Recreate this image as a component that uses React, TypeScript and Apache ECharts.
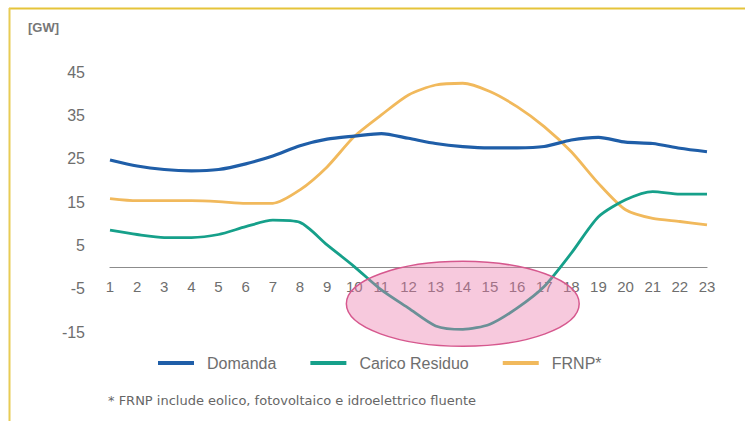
import React, { useEffect, useRef } from "react";
import * as echarts from "echarts";

const hours = ["1","2","3","4","5","6","7","8","9","10","11","12","13","14","15","16","17","18","19","20","21","22","23"];
const domanda = [24.7, 23.3, 22.5, 22.2, 22.5, 23.8, 25.6, 28.0, 29.5, 30.2, 30.8, 29.7, 28.5, 27.8, 27.5, 27.5, 27.8, 29.3, 29.9, 28.8, 28.5, 27.4, 26.6];
const caricoResiduo = [8.5, 7.5, 6.8, 6.8, 7.5, 9.3, 10.8, 10.3, 5.1, 0.1, -5.3, -9.5, -13.6, -14.4, -13.2, -9.5, -4.5, 3.2, 11.6, 15.5, 17.4, 16.8, 16.8];
const frnp = [15.8, 15.3, 15.3, 15.3, 15.1, 14.7, 14.7, 17.8, 23.1, 30.1, 35.1, 39.7, 42.0, 42.4, 40.5, 37.0, 32.4, 26.6, 19.3, 13.2, 11.2, 10.5, 9.7];
const yTicks = [-15, -5, 5, 15, 25, 35, 45];
const yMin = -15;
const yMax = 45;
// highlighted region (hour, GW) and its radii (hours, GW)
const highlight = { hour: 14, value: -8.5, rHours: 4.29, rValue: 9.8 };

const FONT = "'Liberation Sans', Arial, sans-serif";
const GRAY = "#6e6e6e";
const GRID = { left: 110, right: 38, top: 72, bottom: 89 };
const H = 421;

export default function App() {
  const ref = useRef<HTMLDivElement>(null);
  useEffect(() => {
    if (!ref.current) return;
    const chart = echarts.init(ref.current, undefined, { renderer: "svg" });
    const gridH = H - GRID.top - GRID.bottom;
    const zeroOffset = ((0 - yMin) / (yMax - yMin)) * gridH;
    chart.setOption({
      animation: false,
      backgroundColor: "#ffffff",
      grid: { ...GRID, containLabel: false },
      legend: {
        left: 153,
        top: 350,
        itemWidth: 36,
        itemHeight: 4,
        itemGap: 34,
        icon: "rect",
        textStyle: { fontFamily: FONT, fontSize: 16, color: GRAY, padding: [0, 0, 0, 8] },
        data: ["Domanda", "Carico Residuo", "FRNP*"],
      },
      xAxis: {
        type: "category",
        data: hours,
        boundaryGap: false,
        position: "bottom",
        offset: -zeroOffset,
        axisLine: { onZero: false, lineStyle: { color: "#8c8c8c", width: 1.2 } },
        axisTick: { show: false },
        axisLabel: { fontFamily: FONT, fontSize: 15, color: GRAY, margin: 12, interval: 0 },
        splitLine: { show: false },
      },
      yAxis: {
        type: "value",
        min: yMin,
        max: yMax,
        axisLine: { show: false },
        axisTick: { show: false },
        splitLine: { show: false },
        axisLabel: { fontFamily: FONT, fontSize: 16, color: GRAY, margin: 25, customValues: yTicks },
      },
      series: [
        {
          name: "Domanda", type: "line", data: domanda, smooth: 0.25, symbol: "none",
          lineStyle: { color: "#1f5ea8", width: 3.2 }, itemStyle: { color: "#1f5ea8" }, z: 3,
        },
        {
          name: "Carico Residuo", type: "line", data: caricoResiduo, smooth: 0.25, symbol: "none",
          lineStyle: { color: "#16a08a", width: 2.8 }, itemStyle: { color: "#16a08a" }, z: 3,
        },
        {
          name: "FRNP*", type: "line", data: frnp, smooth: 0.25, symbol: "none",
          lineStyle: { color: "#f1b95c", width: 2.8 }, itemStyle: { color: "#f1b95c" }, z: 2,
        },
      ],
    });
    const p0 = chart.convertToPixel({ gridIndex: 0 }, [highlight.hour - 1, highlight.value]) as number[];
    const p1 = chart.convertToPixel({ gridIndex: 0 }, [highlight.hour, highlight.value + highlight.rValue]) as number[];
    const step = p1[0] - p0[0];
    const ry = p0[1] - p1[1];
    chart.setOption({
      graphic: [
        { type: "line", shape: { x1: 9, y1: 8.5, x2: 745, y2: 8.5 }, style: { stroke: "#e5c43a", lineWidth: 2 }, z: 10 },
        { type: "line", shape: { x1: 9.5, y1: 8, x2: 9.5, y2: 421 }, style: { stroke: "#e8cc55", lineWidth: 2 }, z: 10 },
        {
          type: "text", left: 28, top: 21,
          style: { text: "[GW]", fontFamily: FONT, fontSize: 13, fontWeight: "bold", fill: "#777777" },
        },
        {
          type: "text", left: 108, top: 394,
          style: { text: "* FRNP include eolico, fotovoltaico e idroelettrico fluente", fontFamily: "'DejaVu Sans', sans-serif", fontSize: 13, fill: "#666666" },
        },
        {
          type: "ellipse",
          shape: { cx: p0[0], cy: p0[1], rx: step * highlight.rHours, ry: ry },
          style: { fill: "rgba(235,120,170,0.4)", stroke: "#d6588e", lineWidth: 1.5 },
          z: 100,
        },
      ],
    });
    return () => chart.dispose();
  }, []);
  return <div ref={ref} style={{ position: "fixed", left: 0, top: 0, width: 745, height: 421 }} />;
}
